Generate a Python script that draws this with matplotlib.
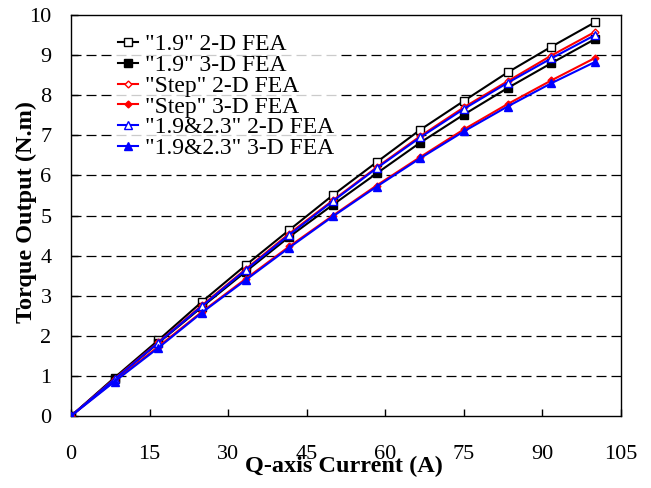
import matplotlib
matplotlib.use('Agg')
import matplotlib.pyplot as plt

# Q-axis current (A)
current = [0, 8.33, 16.67, 25, 33.33, 41.67, 50, 58.33, 66.67, 75, 83.33, 91.67, 100]

# torque output (N.m)
t19_2d = [0, 0.96, 1.89, 2.85, 3.76, 4.64, 5.51, 6.33, 7.14, 7.86, 8.57, 9.21, 9.82]
t19_3d = [0, 0.92, 1.82, 2.72, 3.60, 4.47, 5.27, 6.05, 6.82, 7.52, 8.18, 8.80, 9.40]
step_2d = [0, 0.93, 1.84, 2.76, 3.66, 4.55, 5.38, 6.20, 6.98, 7.70, 8.35, 8.99, 9.58]
step_3d = [0, 0.88, 1.73, 2.60, 3.42, 4.23, 5.00, 5.75, 6.46, 7.15, 7.78, 8.37, 8.93]
t1923_2d = [0, 0.92, 1.83, 2.74, 3.64, 4.52, 5.36, 6.18, 6.95, 7.66, 8.31, 8.92, 9.50]
t1923_3d = [0, 0.86, 1.70, 2.58, 3.39, 4.20, 4.98, 5.72, 6.43, 7.10, 7.72, 8.30, 8.83]

labels = ['"1.9" 2-D FEA', '"1.9" 3-D FEA', '"Step" 2-D FEA',
          '"Step" 3-D FEA', '"1.9&2.3" 2-D FEA', '"1.9&2.3" 3-D FEA']
x_ticks = [0, 15, 30, 45, 60, 75, 90, 105]
y_ticks = list(range(0, 11))

plt.rcParams['font.family'] = ['Liberation Serif', 'DejaVu Serif']

fig = plt.figure(figsize=(6.51, 4.88), dpi=100)
ax = fig.add_axes([0.109, 0.1475, 0.845, 0.8215])

styles = [
    dict(color='black', marker='s', mfc='white', ms=5.5),
    dict(color='black', marker='s', mfc='black', ms=5.5),
    dict(color='red', marker='D', mfc='white', ms=3.5),
    dict(color='red', marker='D', mfc='red', ms=3.5),
    dict(color='blue', marker='^', mfc='white', ms=6),
    dict(color='blue', marker='^', mfc='blue', ms=6),
]
series = [t19_2d, t19_3d, step_2d, step_3d, t1923_2d, t1923_3d]
for ys, lab, st in zip(series, labels, styles):
    ax.plot(current, ys, linewidth=1.5, label=lab, mew=1.0,
            mec=st['color'], zorder=3, **st)

# dashed horizontal grid (not on the frame)
for y in y_ticks[1:-1]:
    ax.axhline(y, color='black', linestyle=(0, (8, 4)), linewidth=0.9, zorder=1)

ax.set_xlim(0, 105)
ax.set_ylim(0, 10)
ax.set_xticks(x_ticks)
ax.set_yticks(y_ticks)
ax.tick_params(direction='in', length=5, labelsize=16, width=1)
ax.tick_params(axis='x', pad=21)
ax.tick_params(axis='y', pad=14)
for s in ax.spines.values():
    s.set_linewidth(1.0)

ax.set_xlabel('Q-axis Current (A)', fontsize=17.5, fontweight='bold')
ax.set_ylabel('Torque Output (N.m)', fontsize=17.5, fontweight='bold')
ax.xaxis.set_label_coords(0.497, -0.099)
ax.yaxis.set_label_coords(-0.062, 0.51)

leg = ax.legend(loc='upper left', bbox_to_anchor=(0.056, 0.995), fontsize=17,
                frameon=True, fancybox=False, edgecolor='white',
                labelspacing=-0.03, handlelength=0.85, handletextpad=0.3,
                borderpad=0.2)
leg.set_zorder(2)
leg.get_frame().set_linewidth(0)

fig.savefig('out.png', dpi=100)
